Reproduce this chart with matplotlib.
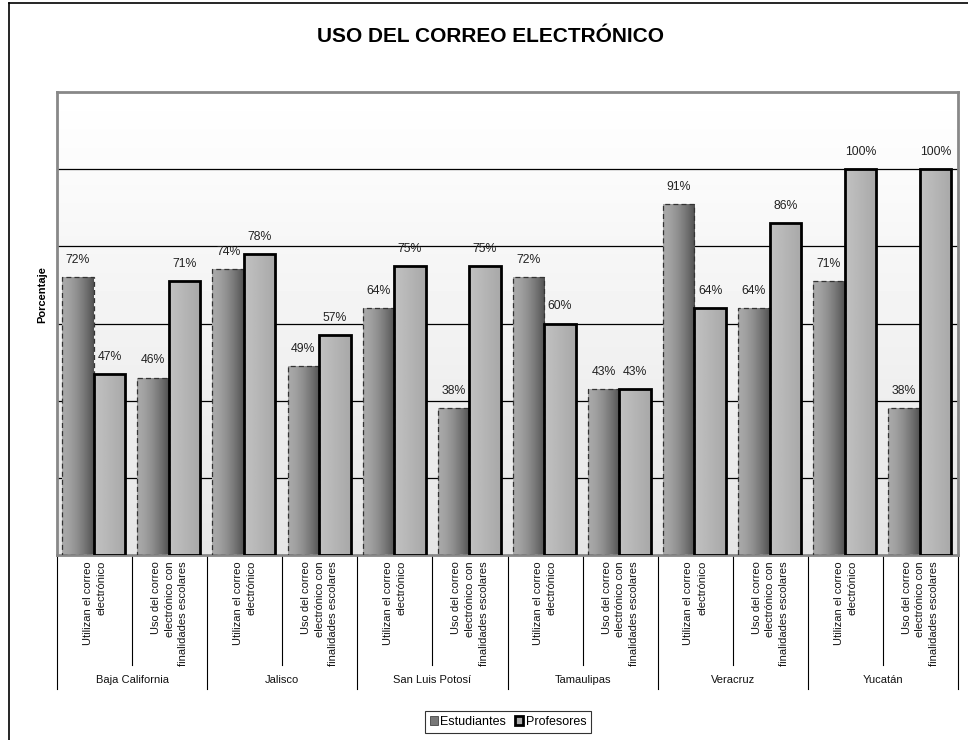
import numpy as np
import matplotlib
matplotlib.use("Agg")
from matplotlib import pyplot as plt
from matplotlib.patches import Rectangle
from matplotlib.lines import Line2D
import matplotlib.transforms as mtransforms

plt.rcParams["font.family"] = ["Liberation Sans", "DejaVu Sans"]

states = ["Baja California", "Jalisco", "San Luis Potosí", "Tamaulipas", "Veracruz", "Yucatán"]
subcats = ["Utilizan el correo\nelectrónico",
           "Uso del correo\nelectrónico con\nfinalidades escolares"]
estudiantes = [72, 46, 74, 49, 64, 38, 72, 43, 91, 64, 71, 38]
profesores = [47, 71, 78, 57, 75, 75, 60, 43, 64, 86, 100, 100]

W, H = 968, 740
fig = plt.figure(figsize=(W / 100, H / 100), dpi=100)

# plot area in pixels
px_l, px_r, px_t, px_b = 57, 958, 92, 555


def fx(x):
    return x / W


def fy(y):
    return 1 - y / H


ax = fig.add_axes([fx(px_l), fy(px_b), fx(px_r - px_l), (px_b - px_t) / H])
n = len(estudiantes)
ax.set_xlim(0, n)
ax.set_ylim(0, 120)


def ay(ypix):
    # pixel y -> axes fraction
    return (px_b - ypix) / (px_b - px_t)


# background gradient
bg = np.linspace(1.0, 0.9, 100).reshape(-1, 1)
ax.imshow(bg, extent=[0, n, 0, 120], cmap="gray", vmin=0, vmax=1,
          aspect="auto", origin="upper", zorder=0)

for g in range(20, 120, 20):
    ax.axhline(g, color="black", lw=0.9, zorder=1)

bw = 0.42
shift = -0.01
t = np.linspace(0, 1, 60)
grad_e = (0.66 - 0.34 * t ** 1.6).reshape(1, -1)
grad_p = (0.76 - 0.1 * t).reshape(1, -1)

for i in range(n):
    c = i + 0.5 + shift
    for x0, v, grad, style in [(c - bw, estudiantes[i], grad_e, "e"),
                               (c, profesores[i], grad_p, "p")]:
        rect = Rectangle((x0, 0), bw, v, facecolor="none", edgecolor="none")
        ax.add_patch(rect)
        im = ax.imshow(grad, extent=[x0, x0 + bw, 0, v], cmap="gray",
                       vmin=0, vmax=1, aspect="auto", zorder=2)
        im.set_clip_path(rect)
        if style == "e":
            edge = Rectangle((x0, 0), bw, v, fill=False, edgecolor="#333333",
                             lw=0.9, ls=(0, (4, 2.5)), zorder=3)
        else:
            edge = Rectangle((x0, 0), bw, v, fill=False, edgecolor="black",
                             lw=2.0, zorder=3)
        ax.add_patch(edge)
        ax.annotate(f"{v}%", (x0 + bw / 2, v), xytext=(0, 8),
                    textcoords="offset points", ha="center", va="bottom",
                    fontsize=8.8, color="#222222", zorder=4)

ax.set_xlim(0, n)
ax.set_ylim(0, 120)
ax.set_xticks([])
ax.set_yticks([])
for s in ax.spines.values():
    s.set_color("#888888")
    s.set_linewidth(2)

# category axis labels
trans = mtransforms.blended_transform_factory(ax.transData, ax.transAxes)
for i in range(n):
    ax.text(i + 0.5, ay(561), subcats[i % 2], transform=trans, rotation=90,
            ha="center", va="top", multialignment="right", fontsize=8,
            linespacing=1.45, color="#111111")
for j in range(n + 1):
    bottom = 689 if j % 2 == 0 else 665
    ax.plot([j, j], [ay(555), ay(bottom)], transform=trans, color="black",
            lw=0.8, clip_on=False)
for k, st in enumerate(states):
    ax.text(2 * k + 1, ay(680), st, transform=trans, ha="center", va="center",
            fontsize=8, color="#111111")

fig.text(fx(490), fy(37), "USO DEL CORREO ELECTRÓNICO", ha="center",
         va="center", fontsize=15, fontweight="bold")
fig.text(fx(42), fy(295), "Porcentaje", rotation=90, ha="center",
         va="center", fontsize=8, fontweight="bold")

# legend
h_e = Rectangle((0, 0), 1, 1, facecolor="#777777", edgecolor="#444444", lw=0.6)
h_p = Rectangle((0, 0), 1, 1, facecolor="#aaaaaa", edgecolor="black", lw=2)
leg = fig.legend([h_e, h_p], ["Estudiantes", "Profesores"], loc="center",
                 bbox_to_anchor=(fx(508), fy(722)), ncol=2, fontsize=9,
                 frameon=True, fancybox=False, handlelength=0.65,
                 handleheight=0.65, handletextpad=0.2, columnspacing=0.7,
                 borderpad=0.4, borderaxespad=0)
leg.get_frame().set_edgecolor("black")
leg.get_frame().set_linewidth(0.8)

# outer frame (top and left)
fig.add_artist(Line2D([fx(9), 1], [fy(3), fy(3)], color="black", lw=1.2))
fig.add_artist(Line2D([fx(9), fx(9)], [fy(3), 0], color="black", lw=1.2))

fig.savefig("out.png", dpi=100, facecolor="white")
